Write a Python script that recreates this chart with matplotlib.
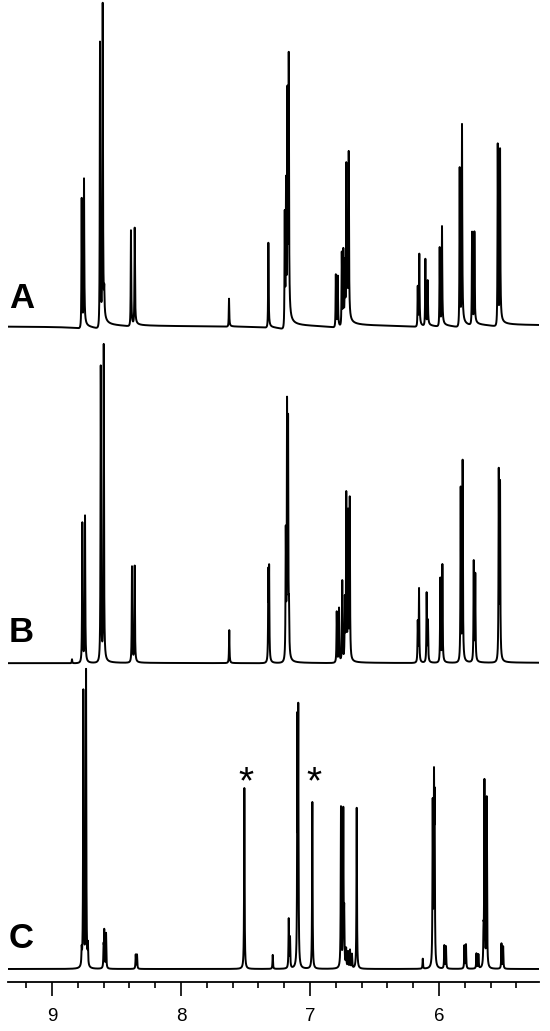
import numpy as np
import matplotlib.pyplot as plt
from matplotlib.ticker import MultipleLocator

plt.rcParams['font.family'] = ['Liberation Sans', 'DejaVu Sans']

# peak lists: chemical shift (ppm) and height (px above baseline)
ppm_A = [8.770, 8.752, 8.628, 8.607, 8.595, 8.388, 8.359, 7.628, 7.323,
         7.196, 7.186, 7.175, 7.165, 6.800, 6.785, 6.754, 6.742, 6.730, 6.719, 6.711, 6.700,
         6.165, 6.153, 6.106, 6.088, 5.995, 5.977, 5.840, 5.822, 5.744, 5.726, 5.545, 5.527]
height_A = [130, 146, 286, 318, 22, 96, 97, 28, 85,
            115, 140, 225, 255, 53, 50, 74, 74, 60, 155, 70, 165,
            40, 71, 67, 44, 79, 98, 159, 198, 93, 91, 182, 172]

ppm_B = [8.845, 8.765, 8.744, 8.622, 8.599, 8.380, 8.359, 7.626, 7.323, 7.317,
         7.188, 7.178, 7.170, 7.163, 6.793, 6.775, 6.750, 6.730, 6.719, 6.705, 6.692,
         6.165, 6.155, 6.096, 6.086, 5.990, 5.974, 5.832, 5.817, 5.731, 5.719, 5.537, 5.527]
height_B = [4, 140, 146, 296, 316, 96, 96, 33, 86, 88,
            125, 245, 225, 38, 51, 54, 81, 60, 165, 145, 160,
            40, 73, 69, 40, 84, 97, 173, 199, 100, 86, 188, 173]

ppm_C = [8.770, 8.757, 8.736, 8.722, 8.600, 8.595, 8.581, 8.351, 8.341, 7.509, 7.289,
         7.165, 7.155, 7.098, 7.091, 6.982, 6.760, 6.742, 6.735, 6.720, 6.705, 6.690, 6.675,
         6.638, 6.126, 6.049, 6.039, 6.034, 5.959, 5.946, 5.803, 5.791, 5.710, 5.695,
         5.655, 5.648, 5.630, 5.516, 5.503]
height_C = [15, 276, 297, 20, 20, 36, 35, 14, 14, 181, 14,
            49, 30, 235, 245, 167, 160, 155, 50, 18, 16, 18, 14,
            161, 10, 160, 170, 150, 23, 22, 23, 24, 15, 14,
            30, 185, 170, 25, 22]

spectra = [(ppm_A, height_A), (ppm_B, height_B), (ppm_C, height_C)]
labels = ['A', 'B', 'C']
star_ppm = [7.499, 6.972]


def lineshape(x, centers, heights, width, phase):
    y = np.zeros_like(x)
    for c, h in zip(centers, heights):
        d = c - x
        den = d ** 2 + width ** 2
        y += h * (np.cos(phase) * width ** 2 / den + np.sin(phase) * width * d / den)
    return y


fig = plt.figure(figsize=(5.5, 10.31), dpi=100)
ax = fig.add_axes([8 / 550, 49 / 1031, 531 / 550, 982 / 1031])

x = np.linspace(9.341, 5.225, 24000)
offsets = [656, 319, 13]
phases = [0.12, 0.03, 0.0]
label_y = [684, 350, 44]

for (p, h), off, ph, lab, ly in zip(spectra, offsets, phases, labels, label_y):
    y = lineshape(x, p, h, 0.0022, ph)
    ax.plot(x, y + off, color='black', lw=1.4)
    ax.text(9.236, ly, lab, fontsize=25, fontweight='bold', ha='center', va='center')

for s in star_ppm:
    ax.text(s, 199, '*', fontsize=28, ha='center', va='center')

ax.set_xlim(9.341, 5.225)
ax.set_ylim(0, 982)
for side in ['top', 'left', 'right']:
    ax.spines[side].set_visible(False)
ax.spines['bottom'].set_linewidth(1.3)
ax.set_yticks([])
ax.set_xticks([9, 8, 7, 6])
ax.xaxis.set_minor_locator(MultipleLocator(0.2))
ax.tick_params(axis='x', which='major', direction='out', length=10, width=1.2, pad=9, labelsize=13.5)
ax.tick_params(axis='x', which='minor', direction='out', length=4.3, width=1.2)

fig.savefig('out.png', dpi=100)
